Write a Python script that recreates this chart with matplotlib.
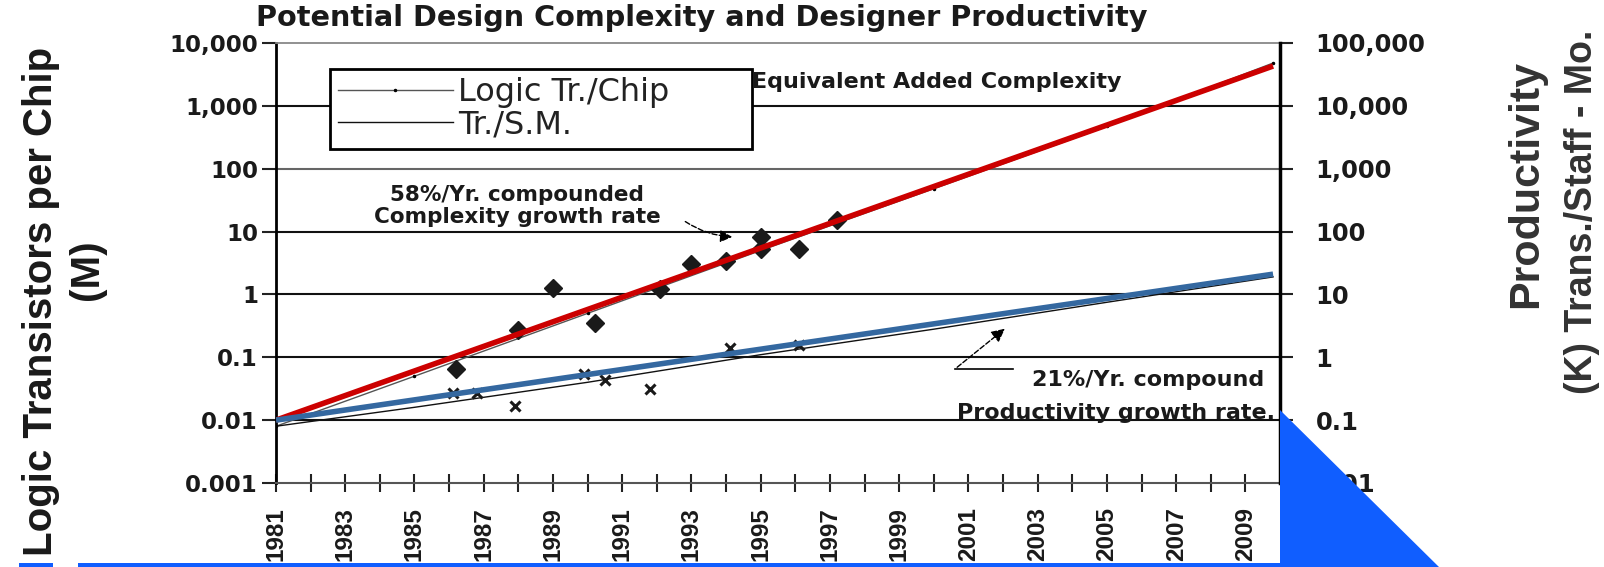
import matplotlib.pyplot as plt
from matplotlib.patches import Polygon, Rectangle
from matplotlib.ticker import NullLocator

# values
years = list(range(1981, 2010))
year_labels = [str(y) if y % 2 else '' for y in years]

left_ticks = [0.001, 0.01, 0.1, 1, 10, 100, 1000, 10000]
left_labels = ['0.001', '0.01', '0.1', '1', '10', '100', '1,000', '10,000']
right_ticks = [0.01, 0.1, 1, 10, 100, 1000, 10000, 100000]
right_labels = ['0.01', '0.1', '1', '10', '100', '1,000', '10,000', '100,000']

# logic transistors per chip, actual designs (diamonds)
chip_years = [1986.2, 1988.0, 1989.0, 1990.2, 1992.1, 1993.0, 1994.0, 1995.0, 1995.0, 1996.1, 1997.2]
chip_vals = [0.065, 0.27, 1.25, 0.35, 1.2, 3.0, 3.4, 8.3, 5.2, 5.3, 15.5]

# transistors per staff-month (x marks)
sm_years = [1986.1, 1986.8, 1987.9, 1989.9, 1990.5, 1991.8, 1994.1, 1996.1]
sm_vals = [0.027, 0.027, 0.017, 0.055, 0.044, 0.031, 0.14, 0.155]

# compounded growth trends
trend_years = [1981, 2009.8]
complexity_trend = [0.01, 4300]
productivity_trend = [0.01, 2.1]

# thin model curves under the trends
model_years = [1981, 1985, 1990, 1995, 2000, 2005, 2009.8]
logic_model = [0.008, 0.05, 0.5, 5, 48, 470, 4800]
sm_model = [0.008, 0.016, 0.04, 0.11, 0.28, 0.75, 1.9]

W, H = 1604, 567
L, R, T, B = 276, 1280, 43, 483   # plot frame in pixels


def frac(px, py):
    return ((px - L) / (R - L), (B - py) / (B - T))


def fig_xy(px, py):
    return (px / W, 1 - py / H)


BOLD = 'DejaVu Sans'
ARIAL = ['Liberation Sans', 'DejaVu Sans']
INK = '#1a1a1a'
BLUE = '#105eff'

fig = plt.figure(figsize=(W / 100, H / 100), dpi=100)
ax = fig.add_axes([L / W, 1 - B / H, (R - L) / W, (B - T) / H])
ax.set_yscale('log')
ax.set_xlim(1981, 2010)
ax.set_ylim(0.001, 10000)

for v in left_ticks[1:-1]:
    ax.axhline(v, color='#666' if v == 100 else '#111', lw=1.5, zorder=1)

ax.plot(model_years, logic_model, color='#555', lw=1, marker='.', ms=3, mfc='k', mec='k',
        zorder=2, label='Logic Tr./Chip')
ax.plot(model_years, sm_model, color='#111', lw=1, zorder=2, label='Tr./S.M.')
ax.plot(chip_years, chip_vals, 'D', color=INK, ms=9, ls='none', zorder=3)
ax.plot(sm_years, sm_vals, 'x', color=INK, ms=7, mew=2.2, ls='none', zorder=3)
ax.plot(trend_years, complexity_trend, color='#cc0000', lw=4, solid_capstyle='butt', zorder=4)
ax.plot(trend_years, productivity_trend, color='#3468a0', lw=4, solid_capstyle='butt', zorder=4)

ax.spines['top'].set_color('#888')
ax.spines['top'].set_linewidth(1.3)
ax.spines['bottom'].set_color('#555')
ax.spines['bottom'].set_linewidth(1.5)
ax.spines['left'].set_color('k')
ax.spines['left'].set_linewidth(2)
ax.spines['right'].set_visible(False)

ax.set_yticks(left_ticks, left_labels)
ax.yaxis.set_minor_locator(NullLocator())
ax.tick_params(axis='y', direction='out', length=10, width=1.5, pad=3,
               labelsize=16.5, color='#222', labelcolor=INK)
for t in ax.get_yticklabels():
    t.set_fontfamily(BOLD)
    t.set_fontweight('bold')

ax.set_xticks(years, year_labels)
ax.xaxis.set_minor_locator(NullLocator())
ax.tick_params(axis='x', direction='inout', length=13.5, width=1.5, pad=10.4,
               labelsize=17.5, labelrotation=90, color='#222', labelcolor=INK)
for t in ax.get_xticklabels():
    t.set_fontfamily(ARIAL)
    t.set_fontweight('bold')

ax2 = ax.twinx()
ax2.set_yscale('log')
ax2.set_ylim(0.01, 100000)
ax2.set_yticks(right_ticks, right_labels)
ax2.yaxis.set_minor_locator(NullLocator())
ax2.tick_params(axis='y', direction='out', length=9.5, width=1.5, pad=16,
                labelsize=17.5, color='#222', labelcolor=INK)
for t in ax2.get_yticklabels():
    t.set_fontfamily(BOLD)
    t.set_fontweight('bold')
for s in ['top', 'left', 'bottom']:
    ax2.spines[s].set_visible(False)
ax2.spines['right'].set_color('k')
ax2.spines['right'].set_linewidth(2.5)

# legend
x0, y0 = frac(330, 69)
x1, y1 = frac(752, 156)
leg = ax.legend(loc='upper left', bbox_to_anchor=(x0, y1, x1 - x0, y0 - y1), mode='expand',
                borderaxespad=0, fancybox=False, framealpha=1, edgecolor='k',
                handlelength=3.6, handletextpad=0.15, borderpad=0.25,
                labelspacing=0.05, numpoints=1, prop={'family': 'DejaVu Sans', 'size': 23})
leg.get_frame().set_linewidth(2)
leg.set_zorder(6)
for t in leg.get_texts():
    t.set_color('#222')

# annotations
ax.text(*frac(752, 82), 'Equivalent Added Complexity', transform=ax.transAxes,
        ha='left', va='center', fontsize=16, fontweight='bold', family=BOLD, color=INK)
ax.text(*frac(517, 206), '58%/Yr. compounded\nComplexity growth rate', transform=ax.transAxes,
        ha='center', va='center', fontsize=15.5, fontweight='bold', family=BOLD,
        color=INK, linespacing=1.1)
ax.annotate('', xy=frac(735, 237), xytext=frac(683, 220), xycoords='axes fraction',
            arrowprops=dict(arrowstyle='-|>', color='k', lw=1, ls='--', mutation_scale=18,
                            connectionstyle='arc3,rad=0.15'))
ax.text(*frac(1264, 380), '21%/Yr. compound', transform=ax.transAxes,
        ha='right', va='center', fontsize=16, fontweight='bold', family=BOLD, color=INK)
ax.text(*frac(1275, 419), 'Productivity growth rate.', transform=ax.transAxes,
        ha='right', va='baseline', fontsize=16, fontweight='bold', family=BOLD, color=INK)
ax.plot(*zip(frac(955, 369), frac(1013, 369)), transform=ax.transAxes, color='k', lw=1.2, zorder=5)
ax.annotate('', xy=frac(1007, 327), xytext=frac(955, 369), xycoords='axes fraction',
            arrowprops=dict(arrowstyle='-|>', color='k', lw=1, ls='--', mutation_scale=20))

# titles and axis labels
fig.text(*fig_xy(702, 18), 'Potential Design Complexity and Designer Productivity',
         ha='center', va='center', fontsize=20.7, fontweight='bold', family=BOLD, color=INK)
fig.text(*fig_xy(52, 301), 'Logic Transistors per Chip', rotation=90, rotation_mode='anchor',
         ha='center', va='baseline', fontsize=29, fontweight='bold', family=ARIAL, color=INK)
fig.text(*fig_xy(98, 270), '(M)', rotation=90, rotation_mode='anchor',
         ha='center', va='baseline', fontsize=29, fontweight='bold', family=ARIAL, color=INK)
fig.text(*fig_xy(1537, 184), 'Productivity', rotation=90, rotation_mode='anchor',
         ha='center', va='baseline', fontsize=31, fontweight='bold', family=ARIAL, color='#333')
fig.text(*fig_xy(1592, 212), '(K) Trans./Staff - Mo.', rotation=90, rotation_mode='anchor',
         ha='center', va='baseline', fontsize=27, fontweight='bold', family=ARIAL, color='#333')

# blue slide decoration
fig.add_artist(Polygon([fig_xy(1280, 410), fig_xy(1280, 568), fig_xy(1440, 568)],
                       closed=True, transform=fig.transFigure, color=BLUE, lw=0, zorder=10))
fig.add_artist(Rectangle(fig_xy(78, 567), (1280 - 78) / W, 4 / H,
                         transform=fig.transFigure, color=BLUE, lw=0, zorder=10))
fig.add_artist(Rectangle(fig_xy(19, 567), (53 - 19) / W, 4 / H,
                         transform=fig.transFigure, color=BLUE, lw=0, zorder=10))

fig.savefig('out.png', dpi=100)
